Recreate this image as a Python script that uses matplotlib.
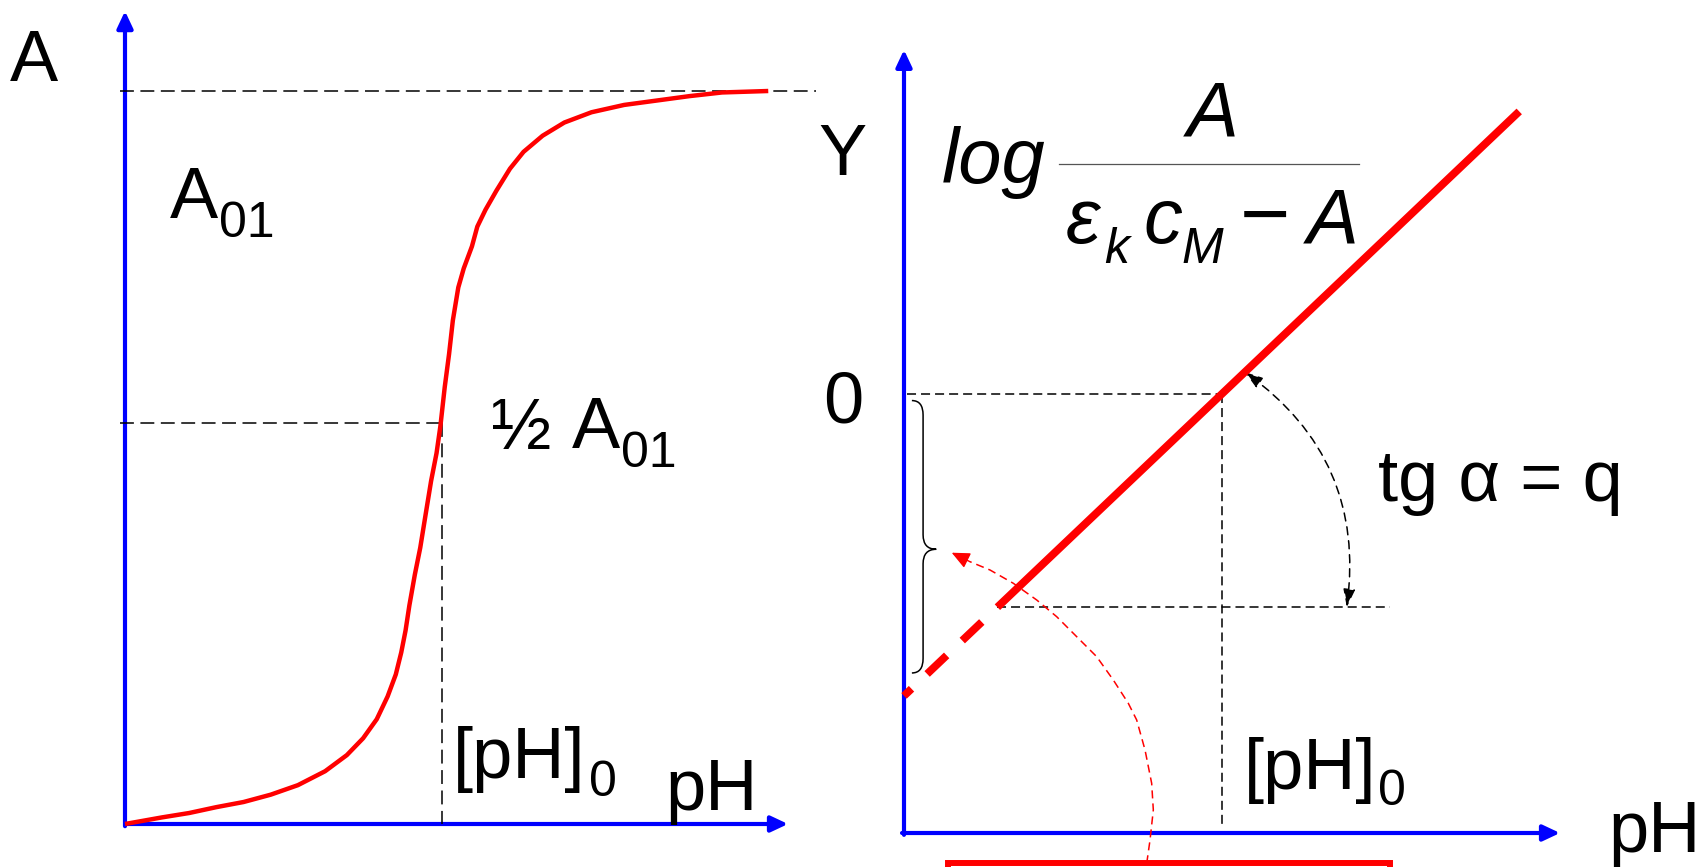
import numpy as np
import matplotlib
matplotlib.use("Agg")
import matplotlib.pyplot as plt
from matplotlib.path import Path
from matplotlib.patches import PathPatch, Rectangle

plt.rcParams['font.family'] = ['Liberation Sans', 'DejaVu Sans']
plt.rcParams['lines.scale_dashes'] = False

# ---- left panel: absorbance vs pH (titration curve) ----
ph_curve = [0.000, 0.556, 0.965, 1.374, 1.783, 2.191, 2.600, 3.009, 3.336, 3.581,
            3.786, 3.949, 4.072, 4.154, 4.219, 4.276, 4.358, 4.440, 4.522, 4.603,
            4.685, 4.743, 4.808, 4.873, 4.930, 5.012, 5.094, 5.217, 5.298, 5.421,
            5.585, 5.789, 5.993, 6.280, 6.607, 7.015, 7.506, 7.997, 8.487, 8.978, 9.673]
a_curve = [0.000, 0.009, 0.015, 0.023, 0.030, 0.040, 0.053, 0.072, 0.094, 0.117,
           0.143, 0.174, 0.204, 0.234, 0.264, 0.298, 0.340, 0.377, 0.423, 0.468,
           0.506, 0.543, 0.596, 0.641, 0.687, 0.732, 0.758, 0.788, 0.815, 0.838,
           0.864, 0.894, 0.917, 0.939, 0.957, 0.971, 0.981, 0.987, 0.993, 0.998, 1.000]
a01 = 1.0          # plateau absorbance A01
a_half = 0.547     # level marked as 1/2 A01
ph_half = 4.76     # [pH]0 on the curve

# ---- right panel: linearised plot log(A/(eps*c - A)) vs pH ----
ph0 = 4.83         # pH where Y = 0
q = 0.95           # slope, tg(alpha)
y_low = -3.24      # level of the horizontal reference line
ph_top = 9.35      # end of the drawn line
arc_tip_ph = 5.18  # angle arc end on the line
arc_base_ph = 6.73 # angle arc end on the reference line

# red dashed pointer from the box up to the brace
ptr_ph = [3.689, 3.739, 3.789, 3.764, 3.663, 3.536, 3.409, 3.181, 2.928, 2.624,
          2.320, 2.017, 1.661, 1.307, 1.003]
ptr_y = [-7.132, -6.778, -6.322, -5.917, -5.410, -4.954, -4.701, -4.347, -3.992, -3.688,
         -3.384, -3.131, -2.877, -2.675, -2.549]
ptr_tip = (0.725, -2.412)

# brace spanning the intercept segment
brace_top, brace_mid, brace_bot = -0.10, -2.36, -4.24

# red frame below the axis
frame_ph = (0.669, 7.386)
frame_y = -7.128

W, H = 1705, 867
BLUE, RED = '#0000ff', '#ff0000'

fig = plt.figure(figsize=(W / 100, H / 100), dpi=100)


def box(x0, y0, x1, y1):
    return [x0 / W, 1 - y1 / H, (x1 - x0) / W, (y1 - y0) / H]


def label(x, y, s, size=52, style='normal', color='black'):
    fig.text(x / W, 1 - y / H, s, fontsize=size, fontstyle=style,
             ha='left', va='baseline', color=color)


def axis_arrow(ax, start, end):
    ax.annotate('', xy=end, xytext=start, annotation_clip=False,
                arrowprops=dict(arrowstyle='-|>,head_length=0.85,head_width=0.4',
                                mutation_scale=12, color=BLUE, lw=3,
                                shrinkA=0, shrinkB=0), zorder=2)


# ================= left panel =================
ax1 = fig.add_axes(box(125, 91, 790, 824))
ax1.set_xlim(0, 10)
ax1.set_ylim(0, 1)
ax1.axis('off')

axis_arrow(ax1, (0, -0.003), (0, 1.109))
axis_arrow(ax1, (0, 0), (9.97, 0))

dash_l = (0, (10, 4.7))
ax1.plot([-0.075, 10.39], [a01, a01], color='black', lw=1.1, ls=dash_l, clip_on=False)
ax1.plot([-0.075, ph_half], [a_half, a_half], color='black', lw=1.1, ls=dash_l, clip_on=False)
ax1.plot([ph_half, ph_half], [a_half, 0], color='black', lw=1.1, ls=dash_l, clip_on=False)

ax1.plot(ph_curve, a_curve, color=RED, lw=3.2, solid_capstyle='butt',
         solid_joinstyle='round', clip_on=False, zorder=3)

label(10, 81, 'A')
label(170, 218, 'A')
label(219, 237, '01', size=36)
label(491, 449, '\u00bd')
label(572, 448, 'A')
label(621, 467, '01', size=36)
label(453, 778, '[pH]')
label(589, 796, '0', size=36)
label(665, 810, 'pH')

# ================= right panel =================
ax2 = fig.add_axes(box(904, 48, 1562, 833))
ax2.set_xlim(0, 10)
ax2.set_ylim(-6.672, 5.258)
ax2.axis('off')

axis_arrow(ax2, (0, -6.70), (0, 5.23))
axis_arrow(ax2, (-0.03, -6.672), (9.97, -6.672))

dash_r = (0, (6.5, 3.6))
ax2.plot([0.05, ph0], [0, 0], color='black', lw=1.1, ls=dash_r, clip_on=False)
ax2.plot([ph0, ph0], [0, -6.60], color='black', lw=1.1, ls=dash_r, clip_on=False)
ph_low = ph0 + y_low / q
ax2.plot([ph_low, 7.39], [y_low, y_low], color='black', lw=1.1, ls=dash_r, clip_on=False)

# fitted line: solid above the reference level, dashed down to the intercept
ax2.plot([ph_low, ph_top], [y_low, q * (ph_top - ph0)], color=RED, lw=5.6,
         solid_capstyle='butt', zorder=4, clip_on=False)
ax2.plot([ph_low, 0], [y_low, -q * ph0], color=RED, lw=5.6,
         ls=(19.4, (19.4, 15.5)), dash_capstyle='butt', zorder=4, clip_on=False)

# angle alpha between reference line and fitted line
ax2.annotate('', xy=(arc_tip_ph, q * (arc_tip_ph - ph0)), xytext=(arc_base_ph, y_low),
             annotation_clip=False,
             arrowprops=dict(arrowstyle='<|-|>,head_length=1.1,head_width=0.36',
                             mutation_scale=10, connectionstyle='arc3,rad=0.3',
                             ls=(0, (5.8, 4.3)), lw=1.1, color='black',
                             shrinkA=0, shrinkB=0))

# brace along the y axis
xe, xs, xt, r = 0.12, 0.29, 0.49, 0.22
verts = [(xe, brace_top), (xs, brace_top), (xs, brace_top - r),
         (xs, brace_mid + r),
         (xs, brace_mid), (xt, brace_mid),
         (xs, brace_mid), (xs, brace_mid - r),
         (xs, brace_bot + r),
         (xs, brace_bot), (xe, brace_bot)]
codes = [Path.MOVETO, Path.CURVE3, Path.CURVE3, Path.LINETO,
         Path.CURVE3, Path.CURVE3, Path.CURVE3, Path.CURVE3,
         Path.LINETO, Path.CURVE3, Path.CURVE3]
ax2.add_patch(PathPatch(Path(verts, codes), fill=False, lw=1.1, color='black',
                        clip_on=False))

# red dashed pointer
ax2.plot(ptr_ph, ptr_y, color=RED, lw=1.1, ls=(0, (5.8, 3.6)), clip_on=False, zorder=3)
ax2.annotate('', xy=ptr_tip, xytext=(ptr_ph[-1], ptr_y[-1]), annotation_clip=False,
             arrowprops=dict(arrowstyle='-|>,head_length=1.1,head_width=0.5',
                             mutation_scale=10, color=RED, lw=1.0,
                             shrinkA=0, shrinkB=0))

# red frame at the bottom (continues past the edge)
ax2.add_patch(Rectangle((frame_ph[0], frame_y - 3), frame_ph[1] - frame_ph[0], 3,
                        fill=False, edgecolor=RED, lw=4.3, clip_on=False))

# axis / formula labels
label(818, 175, 'Y')
label(823, 423, '0')
label(942, 183, 'log', size=56, style='italic')
label(1187, 136, 'A', size=56, style='italic')
fig.add_artist(plt.Line2D([1059 / W, 1359 / W], [1 - 164 / H, 1 - 164 / H],
                          color='#555555', lw=0.9))
label(1066, 243, '\u03b5', size=56, style='italic')
label(1104, 263, 'k', size=36, style='italic')
label(1143, 243, 'c', size=56, style='italic')
label(1181, 263, 'M', size=36, style='italic')
label(1240, 243, '\u2212', size=62)
label(1307, 243, 'A', size=56, style='italic')
label(1244, 789, '[pH]')
label(1378, 805, '0', size=36)
label(1378, 501, 'tg \u03b1 = q')
label(1608, 852, 'pH')

fig.savefig('out.png', dpi=100)
